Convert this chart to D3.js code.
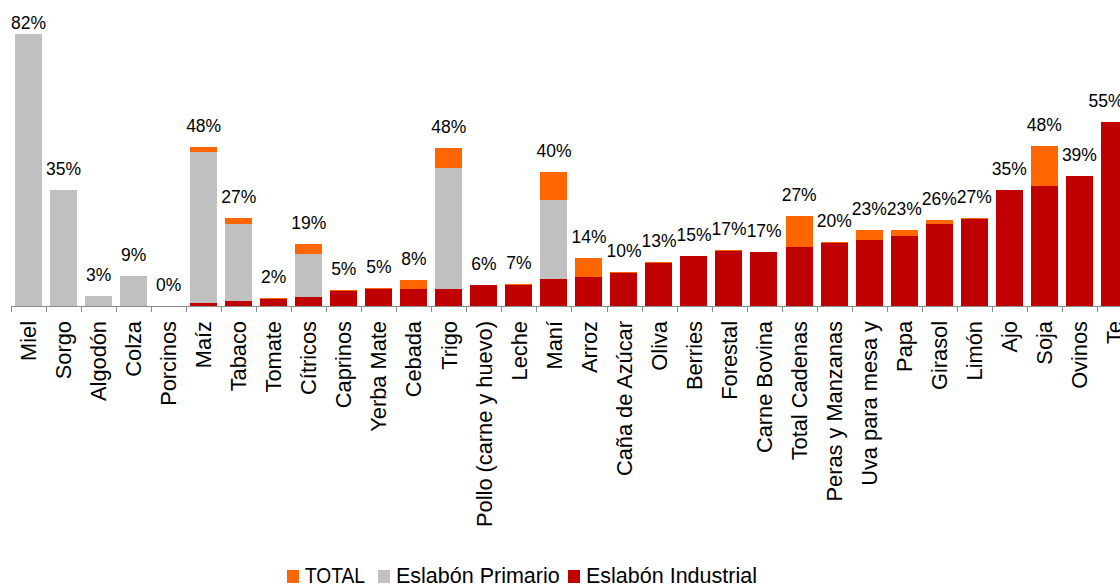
<!DOCTYPE html>
<html>
<head>
<meta charset="utf-8">
<script src="https://cdn.jsdelivr.net/npm/d3@7"></script>
<style>
html,body{margin:0;padding:0;background:#fff;}
svg{display:block;font-family:"Liberation Sans",Arial,sans-serif;}
</style>
</head>
<body>
<svg id="chart" width="1120" height="584"></svg>
<script>
const categories = ["Miel","Sorgo","Algodón","Colza","Porcinos","Maíz","Tabaco","Tomate","Cítricos","Caprinos","Yerba Mate","Cebada","Trigo","Pollo (carne y huevo)","Leche","Maní","Arroz","Caña de Azúcar","Oliva","Berries","Forestal","Carne Bovina","Total Cadenas","Peras y Manzanas","Uva para mesa y","Papa","Girasol","Limón","Ajo","Soja","Ovinos","Te"];
const totalValues = [82,35,3,9,0,48,26.5,2.4,18.7,4.8,5.4,7.8,47.6,6.4,6.6,40.4,14.5,10.2,13.3,15.1,16.9,16.4,27.1,19.4,22.9,22.9,25.9,26.5,35,48.2,39.2,55.5];
const primarioValues = [82,35,3,9,0,46.4,24.7,0,15.7,0,0,0,41.6,0,0,32,0,0,0,0,0,0,0,0,0,0,0,0,0,0,0,0];
const industrialValues = [0,0,0,0,0,0.9,1.5,2.1,2.7,4.5,5.1,5.1,5.1,6.2,6.3,8.1,8.7,9.9,13,15,16.6,16.4,17.8,19.1,19.9,21.1,24.7,26.2,35,36.2,39.2,55.5];
const valueLabels = ["82%","35%","3%","9%","0%","48%","27%","2%","19%","5%","5%","8%","48%","6%","7%","40%","14%","10%","13%","15%","17%","17%","27%","20%","23%","23%","26%","27%","35%","48%","39%","55%"];
const seriesNames = ["TOTAL","Eslabón Primario","Eslabón Industrial"];
const seriesColors = ["#FF6600","#C0C0C0","#C00000"];

const W = 1120;
const svg = d3.select("#chart");
const step = 35.03;
const x = d3.scaleBand().domain(categories).range([11, 11 + step * categories.length]).paddingInner(0.22).paddingOuter(0.11);
const y = d3.scaleLinear().domain([0, 82]).range([306, 34]);

const rows = categories.map((c, i) => ({c, t: totalValues[i], p: primarioValues[i], ind: industrialValues[i], lab: valueLabels[i]}));

const series = [["t", 0], ["p", 1], ["ind", 2]];
series.forEach(([k, ci]) => {
  svg.append("g").attr("shape-rendering", "crispEdges")
    .selectAll("rect").data(rows.filter(d => d[k] > 0)).join("rect")
    .attr("x", d => Math.round(x(d.c)))
    .attr("width", Math.round(x.bandwidth()))
    .attr("y", d => y(d[k]))
    .attr("height", d => y(0) - y(d[k]))
    .attr("fill", seriesColors[ci]);
});

// axis line + ticks at band edges
const ax = svg.append("g").attr("stroke", "#8c8c8c").attr("stroke-width", 1).attr("shape-rendering", "crispEdges");
ax.append("line").attr("x1", 11).attr("x2", W).attr("y1", y(0) + 0.5).attr("y2", y(0) + 0.5);
ax.selectAll("line.tick").data(categories).join("line").attr("class", "tick")
  .attr("x1", (d, i) => Math.round(11 + i * step) + 0.5)
  .attr("x2", (d, i) => Math.round(11 + i * step) + 0.5)
  .attr("y1", y(0)).attr("y2", y(0) + 6);

// category labels
svg.append("g").selectAll("text").data(categories).join("text")
  .attr("transform", d => `translate(${x(d) + x.bandwidth() / 2},321) rotate(-90)`)
  .attr("text-anchor", "end")
  .attr("dy", "0.35em")
  .attr("font-size", "21.8px")
  .attr("fill", "#000")
  .text(d => d);

// value labels
svg.append("g").selectAll("text").data(rows).join("text")
  .attr("x", d => Math.min(x(d.c) + x.bandwidth() / 2, W - 14))
  .attr("y", d => Math.max(y(d.t) - 15, 29))
  .attr("text-anchor", "middle")
  .attr("font-size", "17.5px")
  .attr("fill", "#000")
  .text(d => d.lab);

// legend
const legendX = [287, 378, 568];
const lg = svg.append("g");
seriesNames.forEach((n, i) => {
  lg.append("rect").attr("x", legendX[i]).attr("y", 570).attr("width", 12).attr("height", 13).attr("fill", seriesColors[i]);
  lg.append("text").attr("x", legendX[i] + 18).attr("y", 583).attr("font-size", "21.5px").attr("fill", "#000")
    .attr("textLength", i === 0 ? 60 : null).attr("lengthAdjust", "spacingAndGlyphs").text(n);
});
</script>
</body>
</html>
